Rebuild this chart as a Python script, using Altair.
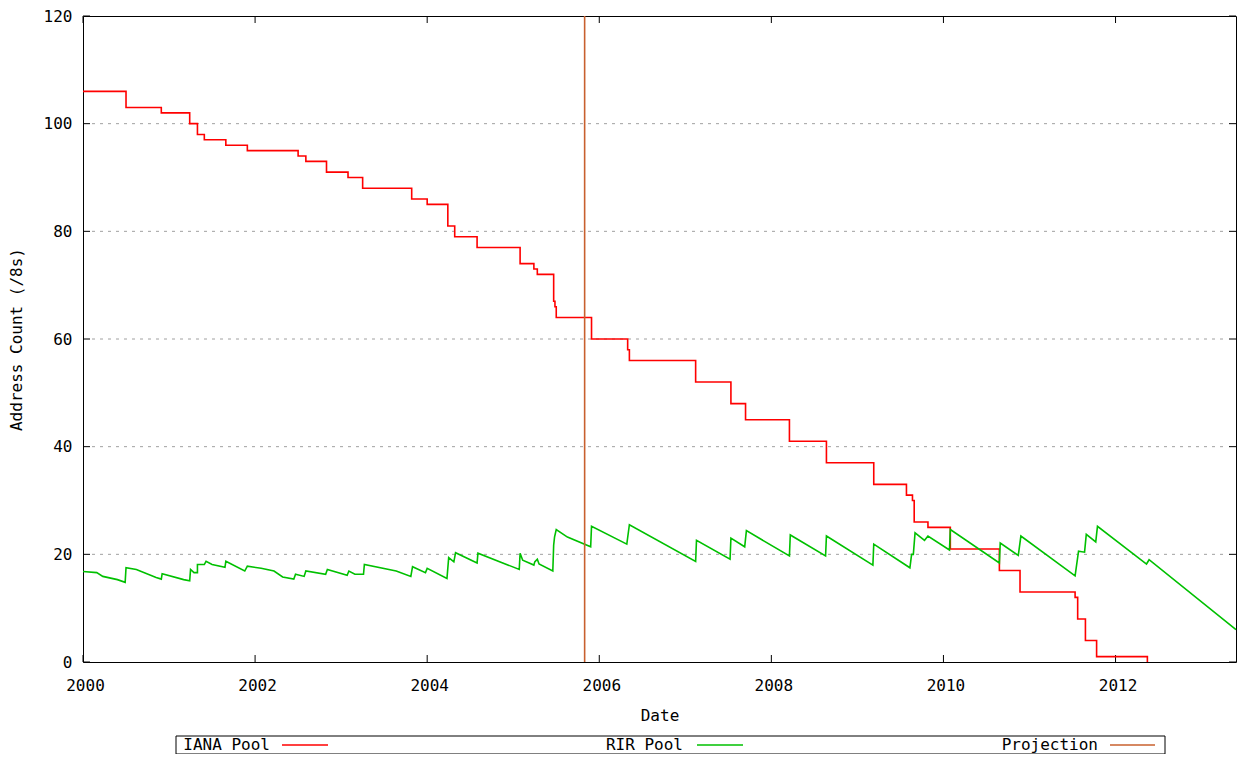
import altair as alt
import pandas as pd

# ---------------- data ----------------
iana_year = [2000.00, 2000.50, 2000.91, 2001.24, 2001.33, 2001.41, 2001.66, 2001.91,
             2002.50, 2002.59, 2002.83, 2003.08, 2003.25, 2003.82, 2004.00, 2004.24,
             2004.32, 2004.58, 2005.08, 2005.24, 2005.28, 2005.47, 2005.485, 2005.50,
             2005.91, 2006.33, 2006.35, 2007.12, 2007.53, 2007.70, 2008.21, 2008.64,
             2009.19, 2009.57, 2009.64, 2009.66, 2009.82, 2010.08, 2010.65, 2010.89,
             2011.53, 2011.56, 2011.65, 2011.78, 2012.37]
iana_count = [106, 103, 102, 100, 98, 97, 96, 95,
              94, 93, 91, 90, 88, 86, 85, 81,
              79, 77, 74, 73, 72, 67, 66, 64,
              60, 58, 56, 52, 48, 45, 41, 37,
              33, 31, 30, 26, 25, 21, 17, 13,
              12, 8, 4, 1, 0]

rir_year = [2000.00, 2000.16, 2000.23, 2000.40, 2000.49, 2000.50, 2000.62, 2000.85,
            2000.91, 2000.92, 2001.17, 2001.24, 2001.25, 2001.29, 2001.33, 2001.33,
            2001.41, 2001.43, 2001.50, 2001.65, 2001.66, 2001.88, 2001.91, 2002.07,
            2002.22, 2002.32, 2002.45, 2002.47, 2002.57, 2002.59, 2002.82, 2002.84,
            2003.07, 2003.09, 2003.16, 2003.26, 2003.27, 2003.64, 2003.81, 2003.83,
            2003.98, 2004.00, 2004.23, 2004.25, 2004.31, 2004.33, 2004.58, 2004.59,
            2005.07, 2005.08, 2005.11, 2005.24, 2005.25, 2005.28, 2005.30, 2005.46,
            2005.47, 2005.48, 2005.50, 2005.63, 2005.90, 2005.91, 2006.32, 2006.35,
            2007.12, 2007.13, 2007.52, 2007.53, 2007.69, 2007.71, 2008.21, 2008.22,
            2008.63, 2008.64, 2009.18, 2009.19, 2009.61, 2009.63, 2009.65, 2009.67,
            2009.78, 2009.82, 2010.07, 2010.08, 2010.65, 2010.66, 2010.87, 2010.90,
            2011.53, 2011.57, 2011.64, 2011.66, 2011.77, 2011.79, 2012.36, 2012.39,
            2013.40]
rir_count = [16.8, 16.6, 15.9, 15.3, 14.8, 17.5, 17.2, 15.7,
             15.4, 16.4, 15.3, 15.1, 17.2, 16.6, 16.6, 18.1,
             18.1, 18.7, 18.1, 17.6, 18.7, 16.9, 17.8, 17.4,
             16.9, 15.8, 15.4, 16.3, 15.9, 16.9, 16.3, 17.2,
             16.1, 16.9, 16.3, 16.3, 18.1, 16.9, 15.9, 17.7,
             16.6, 17.4, 15.5, 19.4, 18.6, 20.3, 18.4, 20.2,
             17.2, 20.2, 18.9, 18.0, 18.6, 19.1, 18.2, 16.9,
             21.7, 23.2, 24.6, 23.2, 21.4, 25.2, 21.9, 25.5,
             18.7, 22.6, 19.1, 23.0, 21.4, 24.4, 19.7, 23.6,
             19.7, 23.4, 18.0, 21.9, 17.5, 20.0, 20.0, 24.0,
             22.6, 23.4, 20.8, 24.6, 18.4, 22.1, 19.8, 23.4,
             16.0, 20.6, 20.4, 23.7, 22.3, 25.2, 18.2, 19.0,
             6.0]

projection_year = [2005.83]

x_tick_years = [2000, 2002, 2004, 2006, 2008, 2010, 2012]
y_tick_values = [0, 20, 40, 60, 80, 100, 120]
grid_values = [20, 40, 60, 80, 100]

series_names = ["IANA Pool", "RIR Pool", "Projection"]
series_colors = ["#ff0000", "#00c000", "#c8602e"]

# ---------------- layout ----------------
W, H = 1153, 646
FONT = "DejaVu Sans Mono"
X_DOMAIN = [2000, 2013.4]
Y_DOMAIN = [0, 120]

xs = alt.Scale(domain=X_DOMAIN, nice=False, zero=False)
ys = alt.Scale(domain=Y_DOMAIN, nice=False, zero=True)

x_axis = alt.Axis(values=x_tick_years, format="d", ticks=False, domain=False, grid=False,
                  labelFlush=False, labelOverlap=False, labelPadding=15, labelOffset=2,
                  titlePadding=14)
y_axis = alt.Axis(values=y_tick_values, format="d", ticks=False, domain=False, grid=False,
                  labelPadding=11, titlePadding=19)
X_TITLE = "Date"
Y_TITLE = "Address Count (/8s)"


def X(field):
    return alt.X(field, scale=xs, title=X_TITLE, axis=x_axis)


def Y(field):
    return alt.Y(field, scale=ys, title=Y_TITLE, axis=y_axis)


iana_df = pd.DataFrame({"year": iana_year, "count": iana_count})
rir_df = pd.DataFrame({"year": rir_year, "count": rir_count, "i": list(range(len(rir_year)))})
proj_df = pd.DataFrame({"year": projection_year})
xt_df = pd.DataFrame({"v": x_tick_years})
yt_df = pd.DataFrame({"v": y_tick_values})
grid_df = pd.DataFrame({"v": grid_values})
one = pd.DataFrame({"a": [0]})

grid = alt.Chart(grid_df).mark_rule(color="#a0a0a0", strokeWidth=1, strokeDash=[3, 5]).encode(
    y=Y("v:Q"), x=alt.value(9), x2=alt.value(W - 8))

ytick_l = alt.Chart(yt_df).mark_rule(color="black", strokeWidth=1).encode(
    y=Y("v:Q"), x=alt.value(0), x2=alt.value(7))
ytick_r = alt.Chart(yt_df).mark_rule(color="black", strokeWidth=1).encode(
    y=Y("v:Q"), x=alt.value(W - 7), x2=alt.value(W))
xtick_b = alt.Chart(xt_df).mark_rule(color="black", strokeWidth=1).encode(
    x=X("v:Q"), y=alt.value(H - 7), y2=alt.value(H))
xtick_t = alt.Chart(xt_df).mark_rule(color="black", strokeWidth=1).encode(
    x=X("v:Q"), y=alt.value(0), y2=alt.value(7))

iana = alt.Chart(iana_df).mark_line(
    color=series_colors[0], strokeWidth=1.6, interpolate="step-after").encode(
    x=X("year:Q"), y=Y("count:Q"))

rir = alt.Chart(rir_df).mark_line(color=series_colors[1], strokeWidth=1.6).encode(
    x=X("year:Q"), y=Y("count:Q"), order=alt.Order("i:Q"))

proj = alt.Chart(proj_df).mark_rule(color=series_colors[2], strokeWidth=1.6).encode(
    x=X("year:Q"))

# legend box below the plot
LEG_Y = 729
legend_layers = [
    alt.Chart(one).mark_rect(fill="white", stroke="black", strokeWidth=1).encode(
        x=alt.value(93), x2=alt.value(1082), y=alt.value(720), y2=alt.value(738))
]
text_right = [187, 600, 1015]
line_span = [(199, 245), (614, 660), (1027, 1072)]
for name, color, tx, (l0, l1) in zip(series_names, series_colors, text_right, line_span):
    legend_layers.append(
        alt.Chart(one).mark_text(text=name, font=FONT, fontSize=16, align="right",
                                 baseline="middle", color="black").encode(
            x=alt.value(tx), y=alt.value(LEG_Y)))
    legend_layers.append(
        alt.Chart(one).mark_rule(color=color, strokeWidth=1.6).encode(
            x=alt.value(l0), x2=alt.value(l1), y=alt.value(LEG_Y)))

chart = alt.layer(
    grid, ytick_l, ytick_r, xtick_b, xtick_t, iana, rir, proj, *legend_layers
).properties(
    width=W, height=H,
    autosize=alt.AutoSizeParams(type="none"),
    padding={"left": 75, "top": 8, "right": 1, "bottom": 92},
    background="white",
).configure_view(
    stroke="black", strokeWidth=1
).configure_axis(
    labelFont=FONT, titleFont=FONT, labelFontSize=16, titleFontSize=16,
    titleFontWeight="normal", labelColor="black", titleColor="black",
)

chart.save("out.html", embed_options={"renderer": "svg", "actions": False})
